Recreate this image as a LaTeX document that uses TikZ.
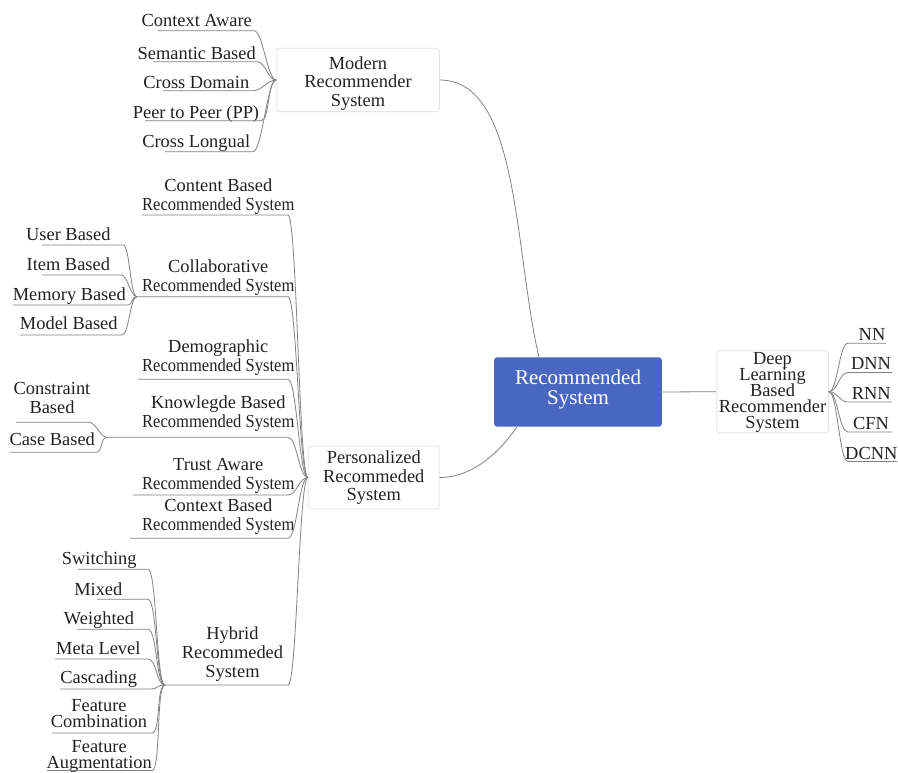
\documentclass[tikz,border=0pt]{standalone}
\usepackage{fontspec}
\setmainfont{Liberation Serif}
\usepackage{graphicx}
\usetikzlibrary{calc}
\definecolor{txt}{RGB}{34,34,34}
\definecolor{lnc}{RGB}{130,130,130}
\definecolor{bxc}{RGB}{228,228,228}
\definecolor{blu}{RGB}{73,103,193}
\newcommand\RSys{\scalebox{0.9}[1]{Recommended System}}
\newcommand\kst{\rule[-4pt]{0pt}{17.5pt}}
\newcommand\kc{9}
% [opts] name parent cx cy uy ul ur text
\newcommand\lkid[9][]{%
  \node[kid,#1] (#2) at (#4,{#5+1.3}) {\kst#9\kst};
  \coordinate (#2-b) at ($(#2.center)+({#7-#4},{#6-#5-1.3})$);
  \draw[conn] (#2-b) -- ($(#2.center)+({#8-#4},{#6-#5-1.3})$) .. controls +(\kc,0) and +(-\kc,0) .. (#3);
}
% name parent cx cy uy ul ur text
\newcommand\rkid[8]{%
  \node[kid] (#1) at (#3,{#4+1.3}) {\kst#8\kst};
  \draw[conn] (#2) .. controls +(9,0) and +(-9,0) .. ($(#1.center)+({#6-#3},{#5-#4-1.3})$) -- ($(#1.center)+({#7-#3},{#5-#4-1.3})$);
}
\begin{document}
\begin{tikzpicture}[x=1pt,y=-1pt,
  conn/.style={draw=lnc,line width=0.8pt},
  kid/.style={align=center,inner sep=0pt,text=txt,font={\fontsize{18.4}{19}\selectfont\lineskiplimit=-100pt\relax}},
  tight/.style={font={\fontsize{18.4}{15.5}\selectfont\lineskiplimit=-100pt\relax}},
  box/.style={draw=bxc,line width=0.8pt,rounded corners=3pt,fill=white,align=center,inner sep=0pt,text=txt,font={\fontsize{18.4}{18.7}\selectfont\lineskiplimit=-100pt\relax}},
]
\fill[white] (0,0) rectangle (898,773);
\useasboundingbox (0,0) rectangle (898,773);

% main boxes
\node[fill=blu,rounded corners=3pt,minimum width=167.7pt,minimum height=69.4pt,inner sep=0pt,align=center,text=white,font={\fontsize{21}{20.3}\selectfont\lineskiplimit=-100pt\relax}] (rs) at (578,392) {\kst Recommended\\System\rule[-10pt]{0pt}{10pt}};
\node[box,minimum width=162.7pt,minimum height=63.3pt] (mod) at (358,80) {\rule[-4pt]{0pt}{24pt}Modern\\Recommender\\System\kst};
\node[box,minimum width=131pt,minimum height=63pt] (pers) at (373.8,477.5) {\kst Personalized\\Recommeded\\System\kst};
\node[box,minimum width=111.7pt,minimum height=82pt,font={\fontsize{18.4}{15.85}\selectfont\lineskiplimit=-100pt\relax}] (dl) at (772.5,391.7) {\kst Deep\\Learning\\Based\\Recommender\\System\kst};

\draw[conn] (rs.east) -- (dl.west);
\draw[conn] (mod.east) .. controls +(80,0) and +(-25,-107) .. ($(rs.north west)+(45,0)$);
\draw[conn] (pers.east) .. controls +(35,0) and +(-15,22) .. ($(rs.south west)+(23,0)$);

% modern children
\lkid{ca}{mod.west}{196.7}{20.7}{30.7}{158}{254}{Context Aware}
\lkid{sb}{mod.west}{196.7}{53}{61.7}{153}{257}{Semantic Based}
\lkid{cd}{mod.west}{196.3}{82.7}{90.7}{163}{253}{Cross Domain}
\lkid{pp}{mod.west}{196}{112.7}{120.7}{145}{261}{Peer to Peer (PP)}
\lkid{cl}{mod.west}{196.2}{141.7}{151.7}{165}{253}{Cross Longual}

% personalized children
\lkid{cb}{pers.west}{218.3}{194.7}{215}{142}{288}{Content Based\\\RSys}
\lkid{co}{pers.west}{218.3}{276.4}{296.7}{137}{288}{Collaborative\\\RSys}
\lkid{de}{pers.west}{218.3}{355.5}{379.3}{138}{288}{Demographic\\\RSys}
\lkid{kb}{pers.west}{218.3}{411.8}{437.3}{107}{288}{Knowlegde Based\\\RSys}
\lkid{ta}{pers.west}{218.3}{473.6}{495}{133}{288}{Trust Aware\\\RSys}
\lkid{cx}{pers.west}{218.3}{515.3}{538.3}{130}{288}{Context Based\\\RSys}
\lkid{hy}{pers.west}{232.5}{652}{685}{165}{288}{Hybrid\\Recommeded\\System}

% collaborative children
\renewcommand\kc{7}
\lkid{ub}{co-b}{68.3}{234.2}{245}{42}{123}{User Based}
\lkid{ib}{co-b}{68.3}{264.5}{275}{42}{121}{Item Based}
\lkid{mb}{co-b}{69.3}{294}{305}{13}{127}{Memory Based}
\lkid{md}{co-b}{68.8}{323.3}{335}{20}{122}{Model Based}

% knowledge children
\lkid{cn}{kb-b}{52}{398.3}{422.3}{16}{89}{Constraint\\Based}
\lkid{cs}{kb-b}{52.2}{439.2}{452.3}{10}{96}{Case Based}

% hybrid children
\renewcommand\kc{9}
\lkid{sw}{hy-b}{99.2}{558.3}{569.3}{78}{148}{Switching}
\lkid{mx}{hy-b}{98.3}{589.7}{599.3}{97}{148}{Mixed}
\lkid{wt}{hy-b}{99}{618.3}{629.3}{77}{148}{Weighted}
\lkid{ml}{hy-b}{98.3}{648.3}{659}{55}{148}{Meta Level}
\lkid{cg}{hy-b}{98.7}{677.3}{689}{60}{150}{Cascading}
\lkid[tight]{fc}{hy-b}{99}{713.2}{733}{52}{152}{Feature\\Combination}
\lkid[tight]{fa}{hy-b}{99.2}{754.6}{770.5}{47}{152}{Feature\\Augmentation}

% deep learning children
\rkid{nn}{dl.east}{872}{334.7}{343.3}{848}{886}{NN}
\rkid{dnn}{dl.east}{871}{363.7}{372.5}{848}{892}{DNN}
\rkid{rnn}{dl.east}{871.3}{393.5}{402}{848}{892}{RNN}
\rkid{cfn}{dl.east}{871}{423}{432}{848}{892}{CFN}
\rkid{dcnn}{dl.east}{871.3}{453}{461.5}{848}{897}{DCNN}
\end{tikzpicture}
\end{document}
